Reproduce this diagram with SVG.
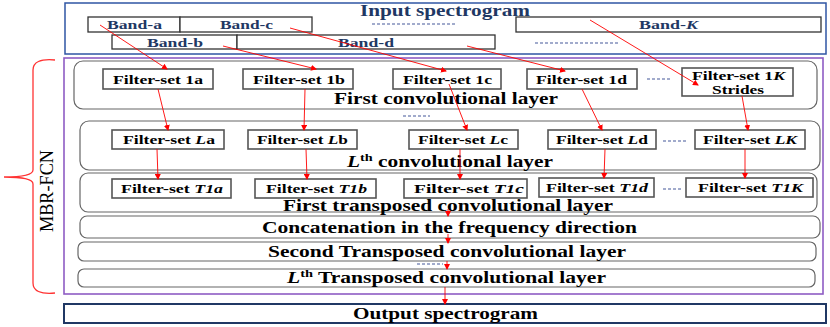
<svg xmlns="http://www.w3.org/2000/svg" width="830" height="327" viewBox="0 0 830 327">
<defs>
<marker id="ah" markerWidth="6" markerHeight="6" refX="5" refY="3" orient="auto" markerUnits="userSpaceOnUse">
<path d="M0,0 L6,3 L0,6 Z" fill="#FF0000"/>
</marker>
<style>
text{font-family:"Liberation Serif","Times New Roman",serif;font-weight:bold;}
.band{fill:#fff;stroke:#333;stroke-width:1.3;}
.bt{font-size:13.5px;fill:#1F3864;}
.fb{fill:#fff;stroke:#555;stroke-width:1.6;}
.ft{font-size:13.5px;fill:#000;}
.layer{fill:#fff;stroke:#666;stroke-width:1.2;}
.lt{font-size:16.5px;fill:#000;}
.dash{stroke:#44589A;stroke-width:1.2;stroke-dasharray:3,2;}
.arr{stroke:#FF0000;stroke-width:0.9;fill:none;marker-end:url(#ah);}
</style>
</defs>

<g id="input">
<rect x="65" y="3" width="761" height="51" fill="#fff" stroke="#2F55A4" stroke-width="1.5"/>
<text x="360" y="15.5" font-size="16.5" fill="#1F3864" textLength="170" lengthAdjust="spacingAndGlyphs">Input spectrogram</text>
</g>
<g id="band-a"><rect class="band" x="88" y="17" width="92" height="15"/><text class="bt" x="107" y="29" textLength="55" lengthAdjust="spacingAndGlyphs">Band-a</text></g>
<g id="band-c"><rect class="band" x="180" y="17" width="132" height="15"/><text class="bt" x="220" y="29" textLength="53" lengthAdjust="spacingAndGlyphs">Band-c</text></g>
<g id="band-b"><rect class="band" x="112" y="35" width="125" height="14"/><text class="bt" x="147" y="46.5" textLength="56" lengthAdjust="spacingAndGlyphs">Band-b</text></g>
<g id="band-d"><rect class="band" x="237" y="35" width="258" height="14"/><text class="bt" x="338" y="46.5" textLength="56" lengthAdjust="spacingAndGlyphs">Band-d</text></g>
<g id="band-K"><rect class="band" x="516" y="17" width="305" height="15"/><text class="bt" x="639" y="29" textLength="59" lengthAdjust="spacingAndGlyphs">Band-<tspan font-style="italic">K</tspan></text></g>
<g id="top-dashes">
<line class="dash" x1="372" y1="24" x2="455" y2="24"/>
<line class="dash" x1="535" y1="43" x2="618" y2="43"/>
</g>

<g id="mbr-fcn">
<rect x="64" y="58" width="759" height="236" fill="none" stroke="#8E5CC4" stroke-width="1.6"/>
<path d="M55,60 Q33,58 33,70 L33,170 Q33,177 4,177 Q33,177 33,184 L33,283 Q33,295 55,293" fill="none" stroke="#FF3333" stroke-width="1.3"/>
<text x="0" y="0" font-size="19" fill="#000" transform="translate(53,232) rotate(-90)" textLength="82" lengthAdjust="spacingAndGlyphs" style="font-weight:normal">MBR-FCN</text>
</g>

<g id="first-conv-layer">
<rect class="layer" x="74" y="61" width="743" height="48" rx="9" stroke-width="1.6"/>
<text class="lt" x="334" y="104" textLength="224" lengthAdjust="spacingAndGlyphs">First convolutional layer</text>
<line class="dash" x1="403" y1="116" x2="430" y2="116"/>
</g>
<g id="fs-1a"><rect class="fb" x="103" y="69" width="110" height="20"/><text class="ft" x="113" y="84" textLength="90" lengthAdjust="spacingAndGlyphs">Filter-set 1a</text></g>
<g id="fs-1b"><rect class="fb" x="243" y="69" width="110" height="20"/><text class="ft" x="253" y="84" textLength="92" lengthAdjust="spacingAndGlyphs">Filter-set 1b</text></g>
<g id="fs-1c"><rect class="fb" x="393" y="69" width="108" height="20"/><text class="ft" x="403" y="84" textLength="89" lengthAdjust="spacingAndGlyphs">Filter-set 1c</text></g>
<g id="fs-1d"><rect class="fb" x="527" y="69" width="110" height="20"/><text class="ft" x="536" y="84" textLength="91" lengthAdjust="spacingAndGlyphs">Filter-set 1d</text></g>
<g id="fs-1K"><rect class="fb" x="682" y="68" width="111" height="28"/><text class="ft" x="692" y="80" textLength="93" lengthAdjust="spacingAndGlyphs">Filter-set 1<tspan font-style="italic">K</tspan></text><text class="ft" x="712" y="94" textLength="52" lengthAdjust="spacingAndGlyphs">Strides</text></g>
<line class="dash" x1="647" y1="79" x2="672" y2="79"/>

<g id="lth-conv-layer">
<rect class="layer" x="80" y="121" width="740" height="49" rx="9" stroke="#222"/>
<text class="lt" x="347" y="167" textLength="206" lengthAdjust="spacingAndGlyphs"><tspan font-style="italic">L</tspan><tspan font-size="11" dy="-6">th</tspan><tspan dy="6"> convolutional layer</tspan></text>
</g>
<g id="fs-La"><rect class="fb" x="112" y="130" width="112" height="19"/><text class="ft" x="123" y="144" textLength="92" lengthAdjust="spacingAndGlyphs">Filter-set <tspan font-style="italic">L</tspan>a</text></g>
<g id="fs-Lb"><rect class="fb" x="248" y="130" width="109" height="19"/><text class="ft" x="257" y="144" textLength="91" lengthAdjust="spacingAndGlyphs">Filter-set <tspan font-style="italic">L</tspan>b</text></g>
<g id="fs-Lc"><rect class="fb" x="409" y="130" width="109" height="19"/><text class="ft" x="418" y="144" textLength="90" lengthAdjust="spacingAndGlyphs">Filter-set <tspan font-style="italic">L</tspan>c</text></g>
<g id="fs-Ld"><rect class="fb" x="548" y="130" width="108" height="19"/><text class="ft" x="556" y="144" textLength="92" lengthAdjust="spacingAndGlyphs">Filter-set <tspan font-style="italic">L</tspan>d</text></g>
<g id="fs-LK"><rect class="fb" x="695" y="130" width="110" height="19"/><text class="ft" x="703" y="144" textLength="94" lengthAdjust="spacingAndGlyphs">Filter-set <tspan font-style="italic">LK</tspan></text></g>
<line class="dash" x1="663" y1="141" x2="688" y2="141"/>

<g id="first-transposed-layer">
<rect class="layer" x="80" y="173" width="737" height="39" rx="8"/>
<text class="lt" x="283" y="211" textLength="330" lengthAdjust="spacingAndGlyphs">First transposed convolutional layer</text>
</g>
<g id="fs-T1a"><rect class="fb" x="112" y="179" width="119" height="19" stroke="#222" stroke-width="1.2"/><text class="ft" x="121" y="193" textLength="102" lengthAdjust="spacingAndGlyphs">Filter-set <tspan font-style="italic">T1a</tspan></text></g>
<g id="fs-T1b"><rect class="fb" x="255" y="179" width="121" height="19"/><text class="ft" x="266" y="193" textLength="101" lengthAdjust="spacingAndGlyphs">Filter-set <tspan font-style="italic">T1b</tspan></text></g>
<g id="fs-T1c"><rect class="fb" x="404" y="179" width="123" height="19" stroke="#222" stroke-width="1.2"/><text class="ft" x="414" y="193" textLength="110" lengthAdjust="spacingAndGlyphs">Filter-set <tspan font-style="italic">T1c</tspan></text></g>
<g id="fs-T1d"><rect class="fb" x="539" y="178" width="115" height="19"/><text class="ft" x="546" y="192" textLength="102" lengthAdjust="spacingAndGlyphs">Filter-set <tspan font-style="italic">T1d</tspan></text></g>
<g id="fs-T1K"><rect class="fb" x="686" y="178" width="127" height="19" stroke="#222" stroke-width="1.2"/><text class="ft" x="698" y="192" textLength="105" lengthAdjust="spacingAndGlyphs">Filter-set <tspan font-style="italic">T1K</tspan></text></g>
<line class="dash" x1="663" y1="189" x2="683" y2="189"/>

<g id="concat-layer">
<rect class="layer" x="80" y="216" width="740" height="22" rx="7"/>
<text class="lt" x="262" y="233" textLength="375" lengthAdjust="spacingAndGlyphs">Concatenation in the frequency direction</text>
</g>
<g id="second-transposed-layer">
<rect class="layer" x="78" y="242" width="738" height="19" rx="6" stroke-width="2"/>
<text class="lt" x="268" y="257" textLength="358" lengthAdjust="spacingAndGlyphs">Second Transposed convolutional layer</text>
</g>
<line class="dash" x1="417" y1="264" x2="443" y2="264"/>
<g id="lth-transposed-layer">
<rect class="layer" x="78" y="269" width="737" height="18" rx="6" stroke="#111"/>
<text class="lt" x="287" y="283" textLength="319" lengthAdjust="spacingAndGlyphs"><tspan font-style="italic">L</tspan><tspan font-size="11" dy="-6">th</tspan><tspan dy="6"> Transposed convolutional layer</tspan></text>
</g>
<g id="output">
<rect x="64" y="304" width="762" height="19" fill="#fff" stroke="#203864" stroke-width="2"/>
<text class="lt" x="353" y="319" textLength="185" lengthAdjust="spacingAndGlyphs">Output spectrogram</text>
</g>

<g id="connectors">
<line class="arr" x1="100" y1="25" x2="167" y2="69"/>
<line class="arr" x1="223" y1="46" x2="316" y2="69"/>
<line class="arr" x1="290" y1="28" x2="446" y2="71"/>
<line class="arr" x1="467" y1="46" x2="565" y2="71"/>
<line class="arr" x1="590" y1="20" x2="698" y2="85"/>
<line class="arr" x1="158" y1="89" x2="168" y2="130"/>
<line class="arr" x1="305" y1="89" x2="304" y2="130"/>
<line class="arr" x1="449" y1="84" x2="467" y2="130"/>
<line class="arr" x1="582" y1="89" x2="602" y2="130"/>
<line class="arr" x1="742" y1="96" x2="748" y2="130"/>
<line class="arr" x1="157" y1="149" x2="158" y2="179"/>
<line class="arr" x1="306" y1="149" x2="307" y2="179"/>
<line class="arr" x1="460" y1="149" x2="460" y2="179"/>
<line class="arr" x1="605" y1="149" x2="604" y2="178"/>
<line class="arr" x1="745" y1="149" x2="745" y2="178"/>
<line class="arr" x1="448" y1="209" x2="448" y2="216"/>
<line class="arr" x1="448" y1="234" x2="448" y2="243"/>
<line class="arr" x1="447" y1="261" x2="447" y2="269"/>
<line class="arr" x1="445" y1="287" x2="445" y2="304"/>
</g>
</svg>
